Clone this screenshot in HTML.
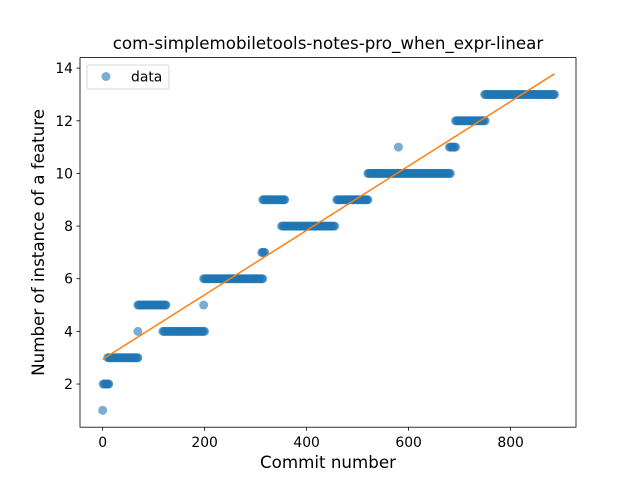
<!DOCTYPE html>
<html><head><meta charset="utf-8"><style>
body{margin:0;background:#fff}
svg{display:block;font-family:"DejaVu Sans","Liberation Sans",sans-serif}
</style></head><body>
<svg id="chart" width="640" height="480" viewBox="0 0 640 480" xmlns="http://www.w3.org/2000/svg">
<rect width="640" height="480" fill="#fff"/>
<g id="marks"></g>
<g id="axes"></g>
</svg>
<script>
const segStart = [0, 1, 10, 69, 69, 118, 198, 198, 312, 314, 351, 459, 520, 580, 680, 692, 749];
const segEnd   = [0, 12, 69, 69, 124, 200, 198, 314, 318, 357, 455, 520, 682, 580, 692, 750, 886];
const segValue = [1, 2, 3, 4, 5, 4, 5, 6, 7, 9, 8, 9, 10, 11, 11, 12, 13];
const xTicks = [0, 200, 400, 600, 800];
const yTicks = [2, 4, 6, 8, 10, 12, 14];
const titleText = "com-simplemobiletools-notes-pro_when_expr-linear";

const L=80,R=576,T=57.6,B=427.2;
const xMin=-44.4,xMax=928.2,yMin=0.36,yMax=14.4;
const sx=v=>L+(v-xMin)/(xMax-xMin)*(R-L);
const sy=v=>B-(v-yMin)/(yMax-yMin)*(B-T);
const NS="http://www.w3.org/2000/svg";
function mk(tag,attrs,parent){const e=document.createElementNS(NS,tag);for(const k in attrs)e.setAttribute(k,attrs[k]);parent.appendChild(e);return e;}
const marks=document.getElementById('marks'),axes=document.getElementById('axes');

const px=[],py=[];
for(let i=0;i<segStart.length;i++){
  for(let x=segStart[i];x<=segEnd[i];x+=2){px.push(x);py.push(segValue[i]);}
  if((segEnd[i]-segStart[i])%2!==0){px.push(segEnd[i]);py.push(segValue[i]);}
}
for(let i=0;i<px.length;i++){
  const c=mk('circle',{cx:sx(px[i]),cy:sy(py[i]),r:4.5,fill:'#1f77b4','fill-opacity':0.6},marks);
  
  
}
let n=px.length,mx=0,my=0;for(let i=0;i<n;i++){mx+=px[i];my+=py[i];}mx/=n;my/=n;
let sxy=0,sxx=0;for(let i=0;i<n;i++){sxy+=(px[i]-mx)*(py[i]-my);sxx+=(px[i]-mx)**2;}
const slope=sxy/sxx,icpt=my-slope*mx;
const x0=Math.min(...px),x1=Math.max(...px);
const fl=mk('line',{x1:sx(x0),y1:sy(icpt+slope*x0),x2:sx(x1),y2:sy(icpt+slope*x1),stroke:'#ff7f0e','stroke-width':1.5},marks);



const frame=mk('rect',{x:L,y:T,width:R-L,height:B-T,fill:'none',stroke:'#000','stroke-width':0.8},axes);


xTicks.forEach(v=>{
  const x=sx(v);
  const t=mk('line',{x1:x,y1:B,x2:x,y2:B+3.5,stroke:'#000','stroke-width':0.8},axes);
  
  
  const l=mk('text',{x:x,y:B+20,'font-size':13.9,'text-anchor':'middle'},axes);l.textContent=v;
  
  
});
yTicks.forEach(v=>{
  const y=sy(v);
  const t=mk('line',{x1:L-3.5,y1:y,x2:L,y2:y,stroke:'#000','stroke-width':0.8},axes);
  
  
  const l=mk('text',{x:L-7,y:y+5,'font-size':13.9,'text-anchor':'end'},axes);l.textContent=v;
  
  
});
const tt=mk('text',{x:(L+R)/2,y:49,'font-size':16.7,'text-anchor':'middle'},axes);tt.textContent=titleText;


const xt=mk('text',{x:(L+R)/2,y:468,'font-size':16.7,'text-anchor':'middle'},axes);xt.textContent="Commit number";


const yt=mk('text',{x:0,y:0,'font-size':16.7,'text-anchor':'middle',transform:`translate(44,${(T+B)/2}) rotate(-90)`},axes);yt.textContent="Number of instance of a feature";


const lg=mk('g',{},axes);


mk('rect',{x:87,y:65,width:82,height:24,rx:2,fill:'#fff','fill-opacity':0.8,stroke:'#ccc','stroke-width':0.8},lg);
const lc=mk('circle',{cx:106,cy:76.5,r:4.5,fill:'#1f77b4','fill-opacity':0.6},lg);


const lt=mk('text',{x:131,y:81.5,'font-size':13.9},lg);lt.textContent="data";


</script>
</body></html>
